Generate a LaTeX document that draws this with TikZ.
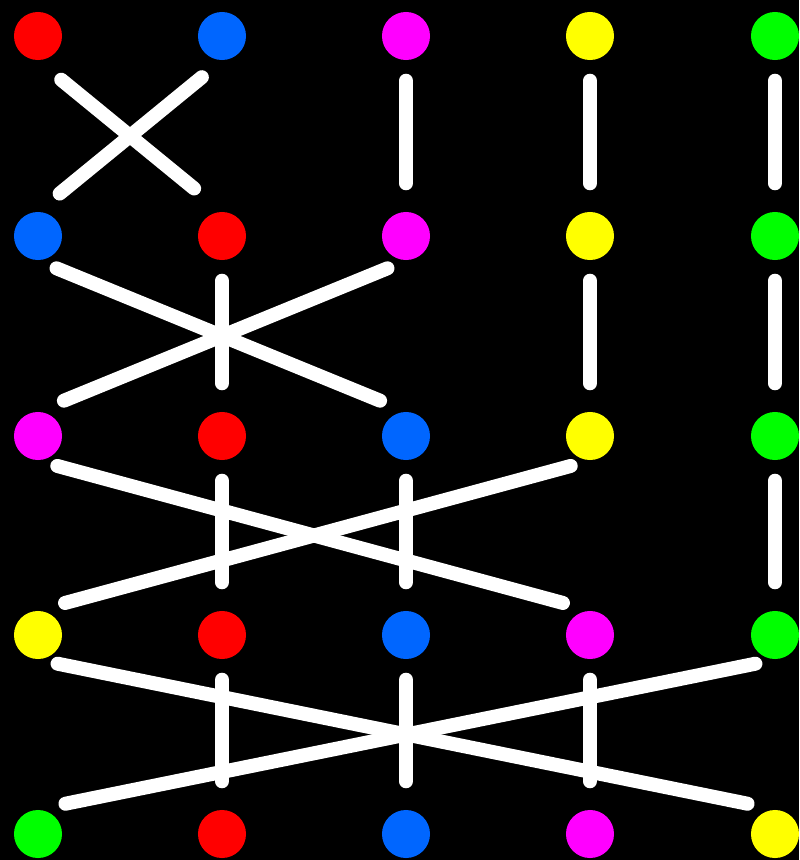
\documentclass[tikz,border=0pt]{standalone}
\usetikzlibrary{calc}

\definecolor{dotred}{HTML}{FF0000}
\definecolor{dotblue}{HTML}{0066FF}
\definecolor{dotmagenta}{HTML}{FF00FF}
\definecolor{dotyellow}{HTML}{FFFF00}
\definecolor{dotgreen}{HTML}{00FF00}

\begin{document}
\begin{tikzpicture}[x=0.01cm, y=-0.01cm,
  dot/.style={circle, inner sep=0pt, minimum size=0.48cm},
  wire/.style={white, line width=0.14cm, line cap=round,
    shorten <=0.20cm, shorten >=0.28cm}]
\def\xA{38}
\def\xB{222}
\def\xC{406}
\def\xD{590}
\def\xE{775}
\def\yA{36}
\def\yB{236}
\def\yC{436}
\def\yD{635}
\def\yE{834}

\fill[black] (0,0) rectangle (799,860);

% row 0
\node[dot, fill=dotred]     (R0) at (\xA,\yA) {};
\node[dot, fill=dotblue]    (B0) at (\xB,\yA) {};
\node[dot, fill=dotmagenta] (M0) at (\xC,\yA) {};
\node[dot, fill=dotyellow]  (Y0) at (\xD,\yA) {};
\node[dot, fill=dotgreen]   (G0) at (\xE,\yA) {};
% row 1
\node[dot, fill=dotblue]    (B1) at (\xA,\yB) {};
\node[dot, fill=dotred]     (R1) at (\xB,\yB) {};
\node[dot, fill=dotmagenta] (M1) at (\xC,\yB) {};
\node[dot, fill=dotyellow]  (Y1) at (\xD,\yB) {};
\node[dot, fill=dotgreen]   (G1) at (\xE,\yB) {};
% row 2
\node[dot, fill=dotmagenta] (M2) at (\xA,\yC) {};
\node[dot, fill=dotred]     (R2) at (\xB,\yC) {};
\node[dot, fill=dotblue]    (B2) at (\xC,\yC) {};
\node[dot, fill=dotyellow]  (Y2) at (\xD,\yC) {};
\node[dot, fill=dotgreen]   (G2) at (\xE,\yC) {};
% row 3
\node[dot, fill=dotyellow]  (Y3) at (\xA,\yD) {};
\node[dot, fill=dotred]     (R3) at (\xB,\yD) {};
\node[dot, fill=dotblue]    (B3) at (\xC,\yD) {};
\node[dot, fill=dotmagenta] (M3) at (\xD,\yD) {};
\node[dot, fill=dotgreen]   (G3) at (\xE,\yD) {};
% row 4
\node[dot, fill=dotgreen]   (G4) at (\xA,\yE) {};
\node[dot, fill=dotred]     (R4) at (\xB,\yE) {};
\node[dot, fill=dotblue]    (B4) at (\xC,\yE) {};
\node[dot, fill=dotmagenta] (M4) at (\xD,\yE) {};
\node[dot, fill=dotyellow]  (Y4) at (\xE,\yE) {};

% swaps
\draw[wire, shorten <=0.30cm, shorten >=0.36cm] (R0.south) -- (R1.north);
\draw[wire, shorten <=0.26cm] (B0.south) -- (B1.north);
\draw[wire] (M0.south) -- (M1.north);
\draw[wire] (Y0.south) -- (Y1.north);
\draw[wire] (G0.south) -- (G1.north);

\draw[wire] (B1.south) -- (B2.north);
\draw[wire] (R1.south) -- (R2.north);
\draw[wire] (M1.south) -- (M2.north);
\draw[wire] (Y1.south) -- (Y2.north);
\draw[wire] (G1.south) -- (G2.north);

\draw[wire] (M2.south) -- (M3.north);
\draw[wire] (R2.south) -- (R3.north);
\draw[wire] (B2.south) -- (B3.north);
\draw[wire] (Y2.south) -- (Y3.north);
\draw[wire] (G2.south) -- (G3.north);

\draw[wire] (Y3.south) -- (Y4.north);
\draw[wire] (R3.south) -- (R4.north);
\draw[wire] (B3.south) -- (B4.north);
\draw[wire] (M3.south) -- (M4.north);
\draw[wire] (G3.south) -- (G4.north);
\end{tikzpicture}
\end{document}
